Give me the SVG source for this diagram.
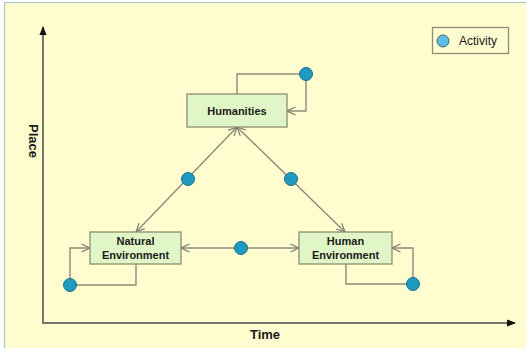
<svg xmlns="http://www.w3.org/2000/svg" width="526" height="348" viewBox="0 0 526 348">
  <style>
    .node rect { fill: #e0f6c6; stroke: #8c8c70; stroke-width: 1.3; }
    .label { font-family: "Liberation Sans", Arial, sans-serif; font-weight: bold; font-size: 11px; fill: #1a1a1a; text-anchor: middle; }
    .axis-label { font-family: "Liberation Sans", Arial, sans-serif; font-weight: bold; font-size: 13px; fill: #1a1a1a; text-anchor: middle; }
    .link { fill: none; stroke: #8c8c78; stroke-width: 1.4; }
    .axis { fill: none; stroke: #76766a; stroke-width: 2; }
    .dot { fill: #1f9bc2; stroke: #1b6f88; stroke-width: 1; }
  </style>
  <defs>
    <marker id="open" viewBox="0 0 10 10" refX="9.5" refY="5" markerWidth="10" markerHeight="10" markerUnits="userSpaceOnUse" orient="auto-start-reverse">
      <path d="M1,1 L9.5,5 L1,9" fill="none" stroke="#7c7c6c" stroke-width="1.2"/>
    </marker>
    <marker id="solid" viewBox="0 0 10 10" refX="9" refY="5" markerWidth="9" markerHeight="9" markerUnits="userSpaceOnUse" orient="auto">
      <path d="M0,1 L10,5 L0,9 Z" fill="#111"/>
    </marker>
  </defs>

  <!-- panel -->
  <rect x="4.5" y="2.5" width="540" height="360" fill="#fffdd0" stroke="#a9c6cc" stroke-width="1.2"/>

  <!-- axes -->
  <g id="axes">
    <path class="axis" d="M43,323 L43,27" marker-end="url(#solid)"/>
    <path class="axis" d="M42,323 L515,323" marker-end="url(#solid)"/>
    <text class="axis-label" x="265" y="339">Time</text>
    <text class="axis-label" transform="translate(29,141) rotate(90)">Place</text>
  </g>

  <!-- legend -->
  <g id="legend">
    <rect x="432.5" y="27.5" width="76" height="26" fill="none" stroke="#8c8c78" stroke-width="1.3"/>
    <circle cx="443" cy="41" r="6" fill="#5ebde4" stroke="#3a6a80" stroke-width="1"/>
    <text x="459" y="45" font-family="'Liberation Sans', Arial, sans-serif" font-size="12" fill="#1a1a1a">Activity</text>
  </g>

  <!-- connectors -->
  <g id="connectors">
    <!-- Humanities self loop -->
    <path class="link" d="M237,94 L237,74 L306,74 L306,111 L287,111" marker-end="url(#open)"/>
    <!-- Natural Environment self loop -->
    <path class="link" d="M136,264 L136,285 L70,285 L70,248 L90,248" marker-end="url(#open)"/>
    <!-- Human Environment self loop -->
    <path class="link" d="M346,264 L346,284 L413,284 L413,248 L392,248" marker-end="url(#open)"/>
    <!-- two-way links -->
    <path class="link" d="M237,127 L136,232" marker-start="url(#open)" marker-end="url(#open)"/>
    <path class="link" d="M237,127 L345,232" marker-start="url(#open)" marker-end="url(#open)"/>
    <path class="link" d="M181,248 L299,248" marker-start="url(#open)" marker-end="url(#open)"/>
    <!-- activity dots -->
    <circle class="dot" cx="306" cy="74" r="6.5"/>
    <circle class="dot" cx="70" cy="285" r="6.5"/>
    <circle class="dot" cx="413" cy="284" r="6.5"/>
    <circle class="dot" cx="188" cy="179" r="6.5"/>
    <circle class="dot" cx="291" cy="179" r="6.5"/>
    <circle class="dot" cx="241" cy="248" r="6.5"/>
  </g>

  <!-- nodes -->
  <g id="humanities" class="node">
    <rect x="187" y="94" width="100" height="33"/>
    <text class="label" x="237" y="115">Humanities</text>
  </g>
  <g id="natural-environment" class="node">
    <rect x="90" y="232" width="91" height="32"/>
    <text class="label" x="135.5" y="245">Natural</text>
    <text class="label" x="135.5" y="259">Environment</text>
  </g>
  <g id="human-environment" class="node">
    <rect x="299" y="232" width="93" height="32"/>
    <text class="label" x="345.5" y="245">Human</text>
    <text class="label" x="345.5" y="259">Environment</text>
  </g>
</svg>
